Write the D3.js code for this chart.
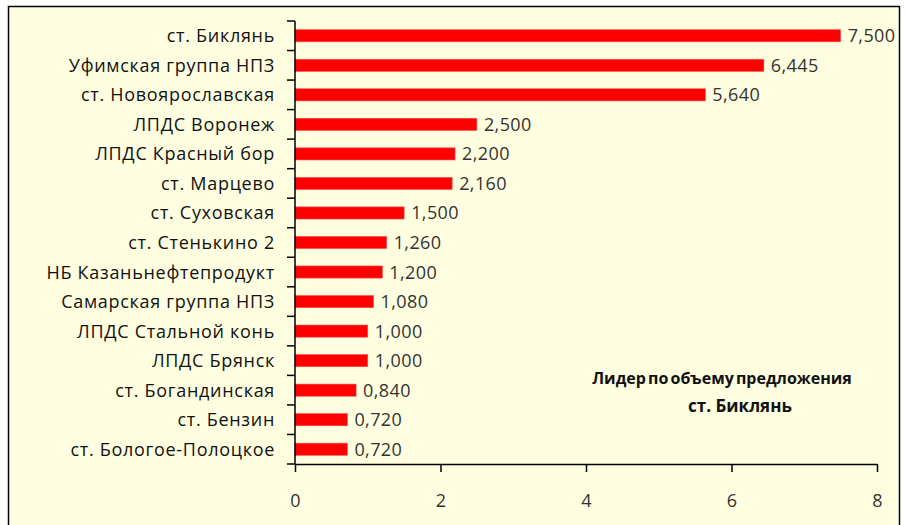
<!DOCTYPE html>
<html>
<head>
<meta charset="utf-8">
<script src="https://d3js.org/d3.v7.min.js"></script>
<style>
  body { margin: 0; background: #fff; }
  text { font-family: "Open Sans", sans-serif; }
</style>
</head>
<body>
<svg width="906" height="525"></svg>
<script>
var stations = ["ст. Биклянь", "Уфимская группа НПЗ", "ст. Новоярославская", "ЛПДС Воронеж",
  "ЛПДС Красный бор", "ст. Марцево", "ст. Суховская", "ст. Стенькино 2", "НБ Казаньнефтепродукт",
  "Самарская группа НПЗ", "ЛПДС Стальной конь", "ЛПДС Брянск", "ст. Богандинская", "ст. Бензин",
  "ст. Бологое-Полоцкое"];
var volumes = [7.5, 6.445, 5.64, 2.5, 2.2, 2.16, 1.5, 1.26, 1.2, 1.08, 1.0, 1.0, 0.84, 0.72, 0.72];
var xTicks = [0, 2, 4, 6, 8];
var noteLines = ["Лидер по объему предложения", "ст. Биклянь"];

var svg = d3.select("svg");

// chart area background + frame
svg.append("rect")
  .attr("x", 8.5).attr("y", 6.5)
  .attr("width", 891).attr("height", 530)
  .attr("fill", "#fffee0")
  .attr("stroke", "#000")
  .attr("stroke-width", 1.5);

var plotL = 295, plotR = 877, plotT = 21, plotB = 464;

var xs = d3.scaleLinear().domain([0, 8]).range([plotL, plotR]);
var ys = d3.scaleBand().domain(stations).range([plotT, plotB]).paddingInner(0.59).paddingOuter(0.295);

var fmt = function(v) { return d3.format(".3f")(v).replace(".", ","); };

// bars
svg.append("g").selectAll("rect").data(stations).enter().append("rect")
  .attr("x", xs(0))
  .attr("y", function(d) { return ys(d); })
  .attr("width", function(d, i) { return xs(volumes[i]) - xs(0); })
  .attr("height", ys.bandwidth())
  .attr("fill", "#ff0000")
  .attr("stroke", "#ff4a4a")
  .attr("stroke-width", 0.6);

// value labels
svg.append("g").selectAll("text").data(stations).enter().append("text")
  .attr("x", function(d, i) { return xs(volumes[i]) + 7; })
  .attr("y", function(d) { return ys(d) + ys.bandwidth() / 2; })
  .attr("dy", "0.36em")
  .style("font-size", "18px")
  .style("letter-spacing", "0.4px")
  .attr("fill", "#333")
  .text(function(d, i) { return fmt(volumes[i]); });

// y axis: line with ticks at band boundaries
var yAxis = svg.append("g");
var yb = d3.scaleLinear().domain([0, stations.length]).range([plotT, plotB]);
yAxis.append("line")
  .attr("x1", plotL).attr("x2", plotL)
  .attr("y1", plotT).attr("y2", plotB)
  .attr("stroke", "#000").attr("stroke-width", 1.5);
yAxis.selectAll("line.tk").data(d3.range(stations.length + 1)).enter().append("line")
  .attr("class", "tk")
  .attr("x1", plotL - 8).attr("x2", plotL)
  .attr("y1", function(d) { return yb(d); })
  .attr("y2", function(d) { return yb(d); })
  .attr("stroke", "#000").attr("stroke-width", 1.5);
yAxis.selectAll("text").data(stations).enter().append("text")
  .attr("x", plotL - 20)
  .attr("y", function(d) { return ys(d) + ys.bandwidth() / 2; })
  .attr("dy", "0.36em")
  .attr("text-anchor", "end")
  .style("font-size", "18px")
  .style("letter-spacing", "0.7px")
  .attr("fill", "#111")
  .text(function(d) { return d; });

// x axis
var xAxis = svg.append("g")
  .attr("transform", "translate(0," + plotB + ")")
  .call(d3.axisBottom(xs).tickValues(xTicks).tickSize(8).tickSizeOuter(0).tickPadding(22)
    .tickFormat(function(d) { return d; }));
xAxis.select(".domain").attr("stroke", "#000").attr("stroke-width", 1.5);
xAxis.selectAll(".tick line").attr("stroke", "#000").attr("stroke-width", 1.5);
xAxis.selectAll(".tick text")
  .style("font-family", "Open Sans, sans-serif")
  .style("font-size", "18px")
  .attr("fill", "#333");

// note
svg.append("text")
  .attr("x", 722).attr("y", 384)
  .attr("text-anchor", "middle")
  .style("font-size", "16px")
  .style("font-weight", "bold")
  .style("word-spacing", "-2px")
  .attr("fill", "#111")
  .text(noteLines[0]);
svg.append("text")
  .attr("x", 740).attr("y", 412)
  .attr("text-anchor", "middle")
  .style("font-size", "17px")
  .style("font-weight", "bold")
  .attr("fill", "#111")
  .text(noteLines[1]);
</script>
</body>
</html>
